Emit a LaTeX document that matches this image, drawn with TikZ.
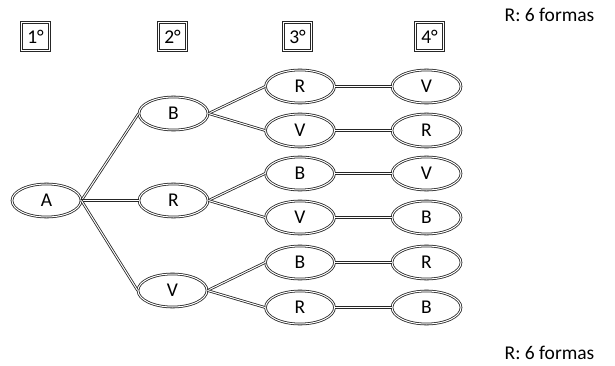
\documentclass[tikz,border=0pt]{standalone}
\usepackage{fontspec}
\setmainfont{Carlito}
\usetikzlibrary{shapes.geometric}
\begin{document}
\begin{tikzpicture}[x=1pt,y=-1pt,
  dbl/.style={draw=black!85, double, double distance=1pt, line width=0.8pt},
  ell/.style={dbl, ellipse, minimum width=69pt, minimum height=33pt, inner sep=0pt, font=\fontsize{19.5}{21}\selectfont},
  lvlbox/.style={dbl, rectangle, minimum size=28pt, inner sep=0pt, font=\fontsize{19.5}{21}\selectfont},
  note/.style={font=\fontsize{19.5}{21}\selectfont, inner sep=0pt}]
\useasboundingbox (0,0) rectangle (615,366);
% level boxes
\node[lvlbox] (l1) at (35.5,36.5) {1°};
\node[lvlbox] (l2) at (172.5,36.5) {2°};
\node[lvlbox] (l3) at (297.5,36.5) {3°};
\node[lvlbox] (l4) at (429.5,36.5) {4°};
% notes
\node[note] (n1) at (549.5,15) {R: 6 formas};
\node[note] (n2) at (549.5,353) {R: 6 formas};
% tree nodes
\node[ell] (A) at (46.5,200.5) {A};
\node[ell] (B2) at (173.5,113.5) {B};
\node[ell] (R2) at (173.5,200.5) {R};
\node[ell] (V2) at (172.5,290.5) {V};
\node[ell] (a3) at (300,86.5) {R};
\node[ell] (b3) at (300,130.5) {V};
\node[ell] (c3) at (300,173.5) {B};
\node[ell] (d3) at (300,217.5) {V};
\node[ell] (e3) at (300,262.5) {B};
\node[ell] (f3) at (300,307.5) {R};
\node[ell] (a4) at (426.5,86.5) {V};
\node[ell] (b4) at (426.5,130.5) {R};
\node[ell] (c4) at (426.5,173.5) {V};
\node[ell] (d4) at (426.5,217.5) {B};
\node[ell] (e4) at (426.5,262.5) {R};
\node[ell] (f4) at (426.5,307.5) {B};
% connectors
\draw[dbl] (A.east) -- (B2.west);
\draw[dbl] (A.east) -- (R2.west);
\draw[dbl] (A.east) -- (V2.west);
\draw[dbl] (B2.east) -- (a3.west);
\draw[dbl] (B2.east) -- (b3.west);
\draw[dbl] (R2.east) -- (c3.west);
\draw[dbl] (R2.east) -- (d3.west);
\draw[dbl] (V2.east) -- (e3.west);
\draw[dbl] (V2.east) -- (f3.west);
\draw[dbl] (a3.east) -- (a4.west);
\draw[dbl] (b3.east) -- (b4.west);
\draw[dbl] (c3.east) -- (c4.west);
\draw[dbl] (d3.east) -- (d4.west);
\draw[dbl] (e3.east) -- (e4.west);
\draw[dbl] (f3.east) -- (f4.west);
\end{tikzpicture}
\end{document}
